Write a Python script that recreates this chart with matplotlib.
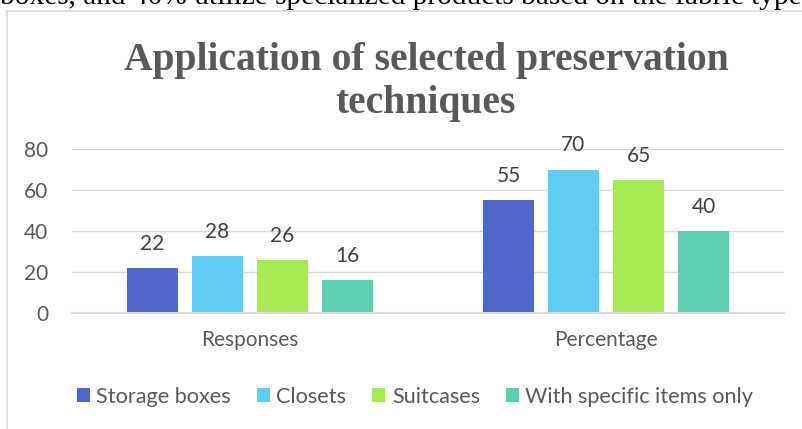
import matplotlib
matplotlib.use('Agg')
import matplotlib.pyplot as plt
from matplotlib.lines import Line2D
from matplotlib.patches import Patch
import numpy as np

# survey results
groups = ['Responses', 'Percentage']
series = ['Storage boxes', 'Closets', 'Suitcases', 'With specific items only']
values = {
    'Storage boxes': [22, 55],
    'Closets': [28, 70],
    'Suitcases': [26, 65],
    'With specific items only': [16, 40],
}
colors = ['#4E67C8', '#5ECCF3', '#A7EA52', '#5DCEAF']
yticks = [0, 20, 40, 60, 80]

W, H = 803, 429
fig = plt.figure(figsize=(W / 100, H / 100), dpi=100)
plt.rcParams['font.family'] = ['Lato', 'DejaVu Sans']

# line of body text above the chart box, cut by the top edge
fig.text(802 / W, 1 - 4.5 / H,
         'boxes, and 40% utilize specialized products based on the fabric type',
         ha='right', va='baseline', fontsize=21.2, color='black',
         family=['Liberation Serif', 'DejaVu Serif'])

# chart box border (top and left edges)
fig.add_artist(Line2D([7 / W, 1], [1 - 10.5 / H, 1 - 10.5 / H],
                      color='#D9D9D9', lw=1.2))
fig.add_artist(Line2D([7 / W, 7 / W], [0, 1 - 10.5 / H],
                      color='#D9D9D9', lw=1.2))

ax = fig.add_axes([72 / W, 1 - 313 / H, (784 - 72) / W, (313 - 149) / H])

x = np.arange(len(groups))
step = 0.1826
width = 0.146
for i, (name, col) in enumerate(zip(series, colors)):
    pos = x + (i - 1.5) * step
    bars = ax.bar(pos, values[name], width, color=col, zorder=3)
    for b, v in zip(bars, values[name]):
        ax.annotate(str(v), (b.get_x() + b.get_width() / 2, v),
                    xytext=(0, 13), textcoords='offset points',
                    ha='center', va='baseline', fontsize=15, color='#404040')

ax.set_xlim(-0.5, 1.5)
ax.set_ylim(0, 80)
ax.set_yticks(yticks)
ax.set_xticks(x)
ax.set_xticklabels(groups)
ax.tick_params(axis='both', length=0, labelsize=15, colors='#595959')
ax.tick_params(axis='y', pad=17)
ax.tick_params(axis='x', pad=12)
ax.grid(axis='y', color='#D9D9D9', lw=1.0, zorder=0)
for s in ['top', 'right', 'left']:
    ax.spines[s].set_visible(False)
ax.spines['bottom'].set_color('#D9D9D9')
ax.spines['bottom'].set_linewidth(1.5)
ax.spines['bottom'].set_zorder(4)

fig.text(426 / W, 1 - 113 / H, 'Application of selected preservation\ntechniques',
         ha='center', va='baseline', fontsize=28.5, fontweight='bold',
         color='#595959', linespacing=1.2,
         family=['Liberation Serif', 'DejaVu Serif'])

handles = [Patch(facecolor=c, edgecolor='none') for c in colors]
fig.legend(handles, series, loc='center', bbox_to_anchor=(415 / W, 1 - 397 / H),
           ncol=4, frameon=False, fontsize=15.6, labelcolor='#595959',
           handlelength=0.6, handleheight=0.6, handletextpad=0.3,
           columnspacing=1.2, borderpad=0)

fig.savefig('out.png', dpi=100)
